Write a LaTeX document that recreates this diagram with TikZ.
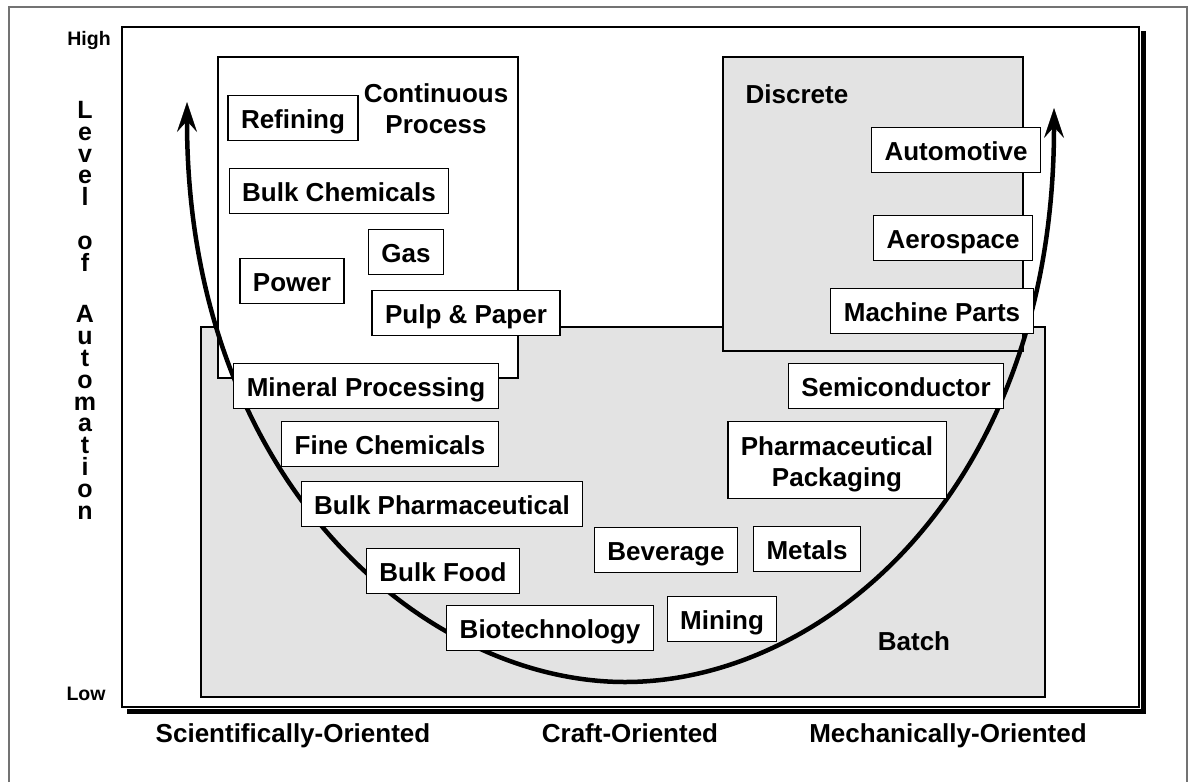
\documentclass[tikz,border=0pt]{standalone}
\usepackage{fontspec}
\setmainfont{Liberation Sans}
\usetikzlibrary{arrows.meta}
\begin{document}
\begin{tikzpicture}[x=1pt,y=-1pt,
  lbl/.style={draw=black, fill=white, line width=1.2pt, inner xsep=13pt, inner ysep=0pt,
    minimum height=45pt, text height=21pt, text depth=1pt,
    font=\bfseries\fontsize{26}{31}\selectfont, align=center},
  txt/.style={inner sep=0pt, font=\bfseries\fontsize{26}{31}\selectfont, align=center},
  small/.style={inner sep=0pt, font=\bfseries\fontsize{19.5}{22}\selectfont},
  region/.style={draw=black, line width=1.2pt},
  stip/.style={region, fill=black!11},
  curvearrow/.style={line width=4.5pt,
    arrows={Stealth[length=30pt,width=20pt,inset=11pt,line width=0.5pt]-Stealth[length=30pt,width=20pt,inset=11pt,line width=0.5pt]}}
]
\useasboundingbox (0,0) rectangle (1193,782);
\fill[white] (0,0) rectangle (1193,782);
% outer frame
\draw[black!55, line width=1.5pt] (9,782) -- (9,7) -- (1187,7) -- (1187,782);
% inner plot frame with shadow
\draw[line width=1.2pt] (122,27) rectangle (1139,707);
\draw[line width=5pt] (127,711) -- (1143,711) -- (1143,31);
% regions
\draw[stip] (201,327) rectangle (1045,697);
\draw[region, fill=white] (218,57) rectangle (518,378);
\draw[stip] (723,57) rectangle (1023,351);
% axis labels
\node[small, anchor=base] (high) at (89,45) {High};
\node[small, anchor=base] (low) at (86,700) {Low};
\node[inner sep=0pt, anchor=north, align=center, font=\bfseries\fontsize{25}{21.8}\selectfont] (ylab) at (85,101)
  {L\\e\\v\\e\\l\\[21.8pt]o\\f\\[30pt]A\\u\\t\\o\\m\\a\\t\\i\\o\\n};
\node[txt, anchor=base] (xsci) at (293,742) {Scientifically-Oriented};
\node[txt, anchor=base] (xcraft) at (630,742) {Craft-Oriented};
\node[txt, anchor=base] (xmech) at (948,742) {Mechanically-Oriented};
% curve
\coordinate (cs) at (187,102);
\coordinate (cb) at (625,682);
\coordinate (ce) at (1054,108);
\draw[curvearrow] (cs) .. controls (187,482) and (425,682) .. (cb)
  .. controls (825,682) and (1054,488) .. (ce);
% region titles
\node[txt, anchor=base] (cont) at (436,133) {Continuous\\Process};
\node[txt, anchor=base] (discrete) at (797,103) {Discrete};
\node[txt, anchor=base] (batch) at (914,650) {Batch};
% industry boxes
\node[lbl] (refining) at (293,118) {Refining};
\node[lbl] (bulkchem) at (339,191) {Bulk Chemicals};
\node[lbl] (gas) at (406,252) {Gas};
\node[lbl] (power) at (292,281) {Power};
\node[lbl] (pulp) at (466,313) {Pulp \& Paper};
\node[lbl] (mineral) at (366,386) {Mineral Processing};
\node[lbl] (fine) at (390,444) {Fine Chemicals};
\node[lbl] (bulkpharm) at (442,504) {Bulk Pharmaceutical};
\node[lbl] (bulkfood) at (443,571) {Bulk Food};
\node[lbl] (biotech) at (550,628) {Biotechnology};
\node[lbl] (mining) at (722,619) {Mining};
\node[lbl] (beverage) at (666,550) {Beverage};
\node[lbl] (metals) at (807,549) {Metals};
\node[lbl, minimum height=77pt, text height=53pt] (pharmpack) at (837,460) {Pharmaceutical\\Packaging};
\node[lbl] (semi) at (896,386) {Semiconductor};
\node[lbl] (machine) at (932,311) {Machine Parts};
\node[lbl] (aero) at (953,238) {Aerospace};
\node[lbl] (auto) at (956,150) {Automotive};
\end{tikzpicture}
\end{document}
